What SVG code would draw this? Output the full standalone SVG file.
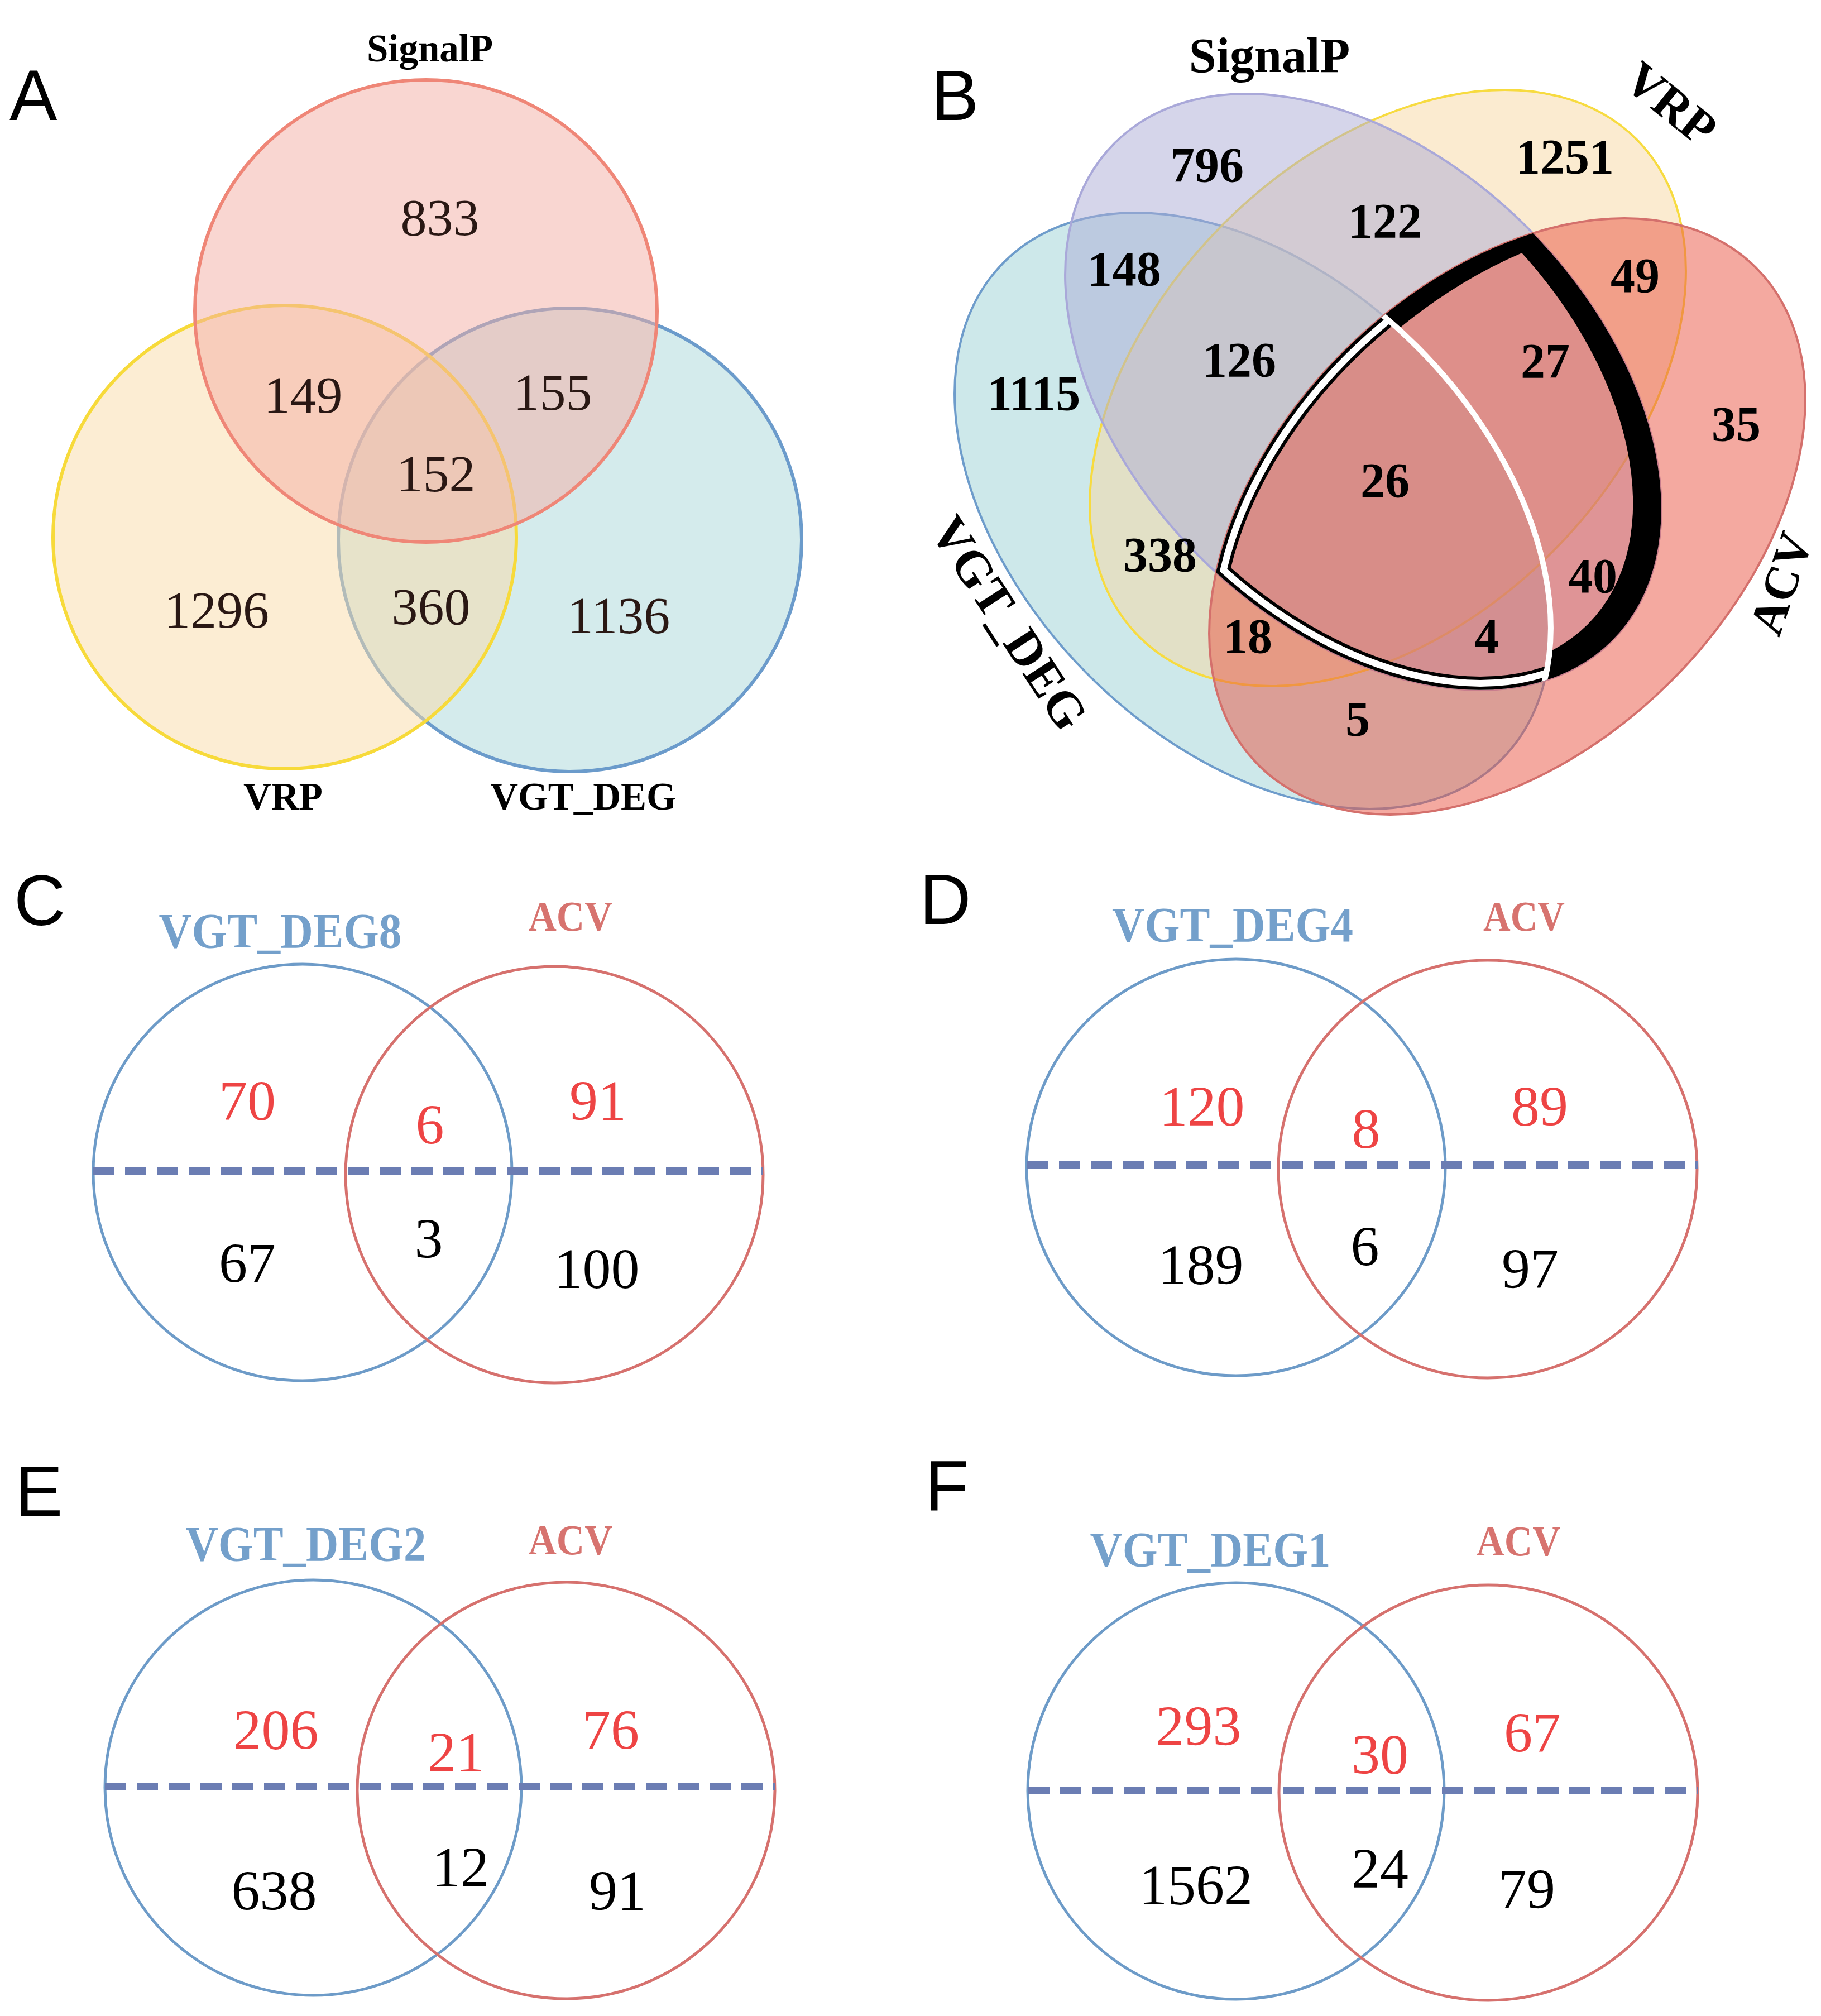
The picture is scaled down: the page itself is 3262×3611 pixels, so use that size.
<svg xmlns="http://www.w3.org/2000/svg" width="3262" height="3611" viewBox="0 0 3262 3611">
<style>
.pl{font-family:"Liberation Sans",Arial,sans-serif;font-size:128px;fill:#000}
.lb{font-family:"Liberation Serif","Times New Roman",serif;font-weight:bold;text-anchor:middle;fill:#000}
.na{font-family:"Liberation Serif","Times New Roman",serif;font-size:94px;text-anchor:middle;fill:#2a1814}
.nb{font-family:"Liberation Serif","Times New Roman",serif;font-weight:bold;font-size:88px;text-anchor:middle;fill:#000}
.nc{font-family:"Liberation Serif","Times New Roman",serif;font-size:102px;text-anchor:middle}
.r{fill:#EE4444}.k{fill:#000}
.sb{font-family:"Liberation Serif","Times New Roman",serif;font-weight:bold;font-size:88px;text-anchor:middle;fill:#74A0CB}
.sr{font-family:"Liberation Serif","Times New Roman",serif;font-weight:bold;font-size:76px;text-anchor:middle;fill:#D7736F}
.eb{fill:none;stroke:#6D9BC8;stroke-width:5}
.er{fill:none;stroke:#D6716E;stroke-width:5}
.dash{stroke:#6B7DB3;stroke-width:14;stroke-dasharray:38 19;fill:none}
</style>
<defs>
<ellipse id="eVGT" cx="2244" cy="915" rx="630" ry="416" transform="rotate(45 2244 915)"/>
<ellipse id="eVRP" cx="2486" cy="695" rx="630" ry="416" transform="rotate(-45 2486 695)"/>
<ellipse id="eSig" cx="2442" cy="702" rx="630" ry="416" transform="rotate(45 2442 702)"/>
<ellipse id="eACV" cx="2700" cy="925" rx="630" ry="416" transform="rotate(-45 2700 925)"/>
<ellipse id="eSigIn" cx="2420" cy="694" rx="600" ry="388" transform="rotate(45 2420 694)"/>
<ellipse id="eACVin" cx="2700" cy="925" rx="630" ry="380" transform="rotate(-45 2700 925)"/>
<clipPath id="cSig"><use href="#eSig"/></clipPath>
<clipPath id="cACV"><use href="#eACV"/></clipPath>
<clipPath id="cVGT"><use href="#eVGT"/></clipPath>
<clipPath id="cSigIn"><use href="#eSigIn"/></clipPath>
<mask id="mBand" maskUnits="userSpaceOnUse" x="0" y="0" width="3262" height="3611">
<g clip-path="url(#cSig)"><use href="#eACV" fill="#fff"/></g>
<g clip-path="url(#cSigIn)"><use href="#eACVin" fill="#000"/></g>
<use href="#eVGT" fill="#000"/>
</mask>
</defs>
<rect width="3262" height="3611" fill="#fff"/>

<g id="panelA">
<g id="A-VGT_DEG"><circle cx="1021" cy="967" r="415" fill="#A9D7D9" fill-opacity="0.5" stroke="#6B9BCB" stroke-width="6"/></g>
<g id="A-VRP"><circle cx="510" cy="962" r="415" fill="#F9DBA7" fill-opacity="0.5" stroke="#F7DA3A" stroke-width="6"/></g>
<g id="A-SignalP"><circle cx="763" cy="557" r="414" fill="#F3ADA3" fill-opacity="0.5" stroke="#EF8677" stroke-width="6"/></g>
<text class="pl" x="17" y="215">A</text>
<text class="lb" x="770" y="110" font-size="69">SignalP</text>
<text class="lb" x="507" y="1450" font-size="69">VRP</text>
<text class="lb" x="1045" y="1450" font-size="69">VGT_DEG</text>
<text class="na" x="788" y="421">833</text>
<text class="na" x="543" y="739">149</text>
<text class="na" x="990" y="734">155</text>
<text class="na" x="781" y="880">152</text>
<text class="na" x="388" y="1124">1296</text>
<text class="na" x="772" y="1118">360</text>
<text class="na" x="1108" y="1134">1136</text>
</g>

<g id="panelB">
<g id="B-VGT_DEG"><use href="#eVGT" fill="#9BD1D5" fill-opacity="0.5" stroke="#6E9CCB" stroke-width="4"/></g>
<g id="B-VRP"><use href="#eVRP" fill="#F7D7A1" fill-opacity="0.5" stroke="#F7DB40" stroke-width="4"/></g>
<g id="B-SignalP"><use href="#eSig" fill="#ABABD5" fill-opacity="0.5" stroke="#A9A8D9" stroke-width="4"/></g>
<g id="B-ACV"><use href="#eACV" fill="#E95341" fill-opacity="0.5" stroke="#D4706C" stroke-width="4"/></g>
<g id="B-highlight">
<rect x="1800" y="300" width="1300" height="1100" fill="#000" mask="url(#mBand)"/>
<g clip-path="url(#cSig)"><g clip-path="url(#cACV)"><g clip-path="url(#cVGT)">
<use href="#eSig" fill="none" stroke="#000" stroke-width="48"/>
<use href="#eACV" fill="none" stroke="#000" stroke-width="48"/>
<use href="#eSig" fill="none" stroke="#fff" stroke-width="36"/>
<use href="#eACV" fill="none" stroke="#fff" stroke-width="36"/>
<use href="#eSig" fill="none" stroke="#000" stroke-width="12"/>
<use href="#eACV" fill="none" stroke="#000" stroke-width="12"/>
</g></g></g>
<g clip-path="url(#cSig)"><g clip-path="url(#cACV)">
<use href="#eVGT" fill="none" stroke="#fff" stroke-width="10"/>
</g></g>
</g>
<text class="pl" x="1668" y="215">B</text>
<text class="lb" x="2274" y="129" font-size="88">SignalP</text>
<text class="lb" font-size="88" transform="translate(2993 186) rotate(39)" y="29">VRP</text>
<text class="lb" font-size="86" transform="translate(3190 1045) rotate(-71)" y="29">ACV</text>
<text class="lb" font-size="90" transform="translate(1808 1116) rotate(57)" y="30">VGT_DEG</text>
<text class="nb" x="2162" y="325">796</text>
<text class="nb" x="2803" y="310">1251</text>
<text class="nb" x="2481" y="425">122</text>
<text class="nb" x="2014" y="511">148</text>
<text class="nb" x="2929" y="523">49</text>
<text class="nb" x="2220" y="674">126</text>
<text class="nb" x="2768" y="676">27</text>
<text class="nb" x="1852" y="734">1115</text>
<text class="nb" x="3110" y="789">35</text>
<text class="nb" x="2481" y="890">26</text>
<text class="nb" x="2078" y="1023">338</text>
<text class="nb" x="2853" y="1061">40</text>
<text class="nb" x="2235" y="1169">18</text>
<text class="nb" x="2663" y="1169">4</text>
<text class="nb" x="2432" y="1317">5</text>
</g>

<g id="panelC">
<g id="C-VGT_DEG8"><ellipse class="eb" cx="542" cy="2100" rx="375" ry="373"/></g>
<g id="C-ACV"><ellipse class="er" cx="993" cy="2104" rx="374" ry="373"/></g>
<text class="pl" x="25" y="1657">C</text>
<text class="sb" x="502" y="1697" textLength="435" lengthAdjust="spacingAndGlyphs">VGT_DEG8</text>
<text class="sr" x="1022" y="1667" textLength="151" lengthAdjust="spacingAndGlyphs">ACV</text>
<text class="nc r" x="443" y="2006">70</text>
<text class="nc r" x="770" y="2049">6</text>
<text class="nc r" x="1071" y="2006">91</text>
<text class="nc k" x="443" y="2297">67</text>
<text class="nc k" x="768" y="2253">3</text>
<text class="nc k" x="1069" y="2307">100</text>
</g>

<g id="panelD">
<g id="D-VGT_DEG4"><ellipse class="eb" cx="2214" cy="2091" rx="375" ry="373"/></g>
<g id="D-ACV"><ellipse class="er" cx="2665" cy="2094" rx="375" ry="374"/></g>
<text class="pl" x="1647" y="1655">D</text>
<text class="sb" x="2208" y="1686" textLength="432" lengthAdjust="spacingAndGlyphs">VGT_DEG4</text>
<text class="sr" x="2730" y="1667" textLength="146" lengthAdjust="spacingAndGlyphs">ACV</text>
<text class="nc r" x="2153" y="2016">120</text>
<text class="nc r" x="2447" y="2056">8</text>
<text class="nc r" x="2758" y="2016">89</text>
<text class="nc k" x="2151" y="2300">189</text>
<text class="nc k" x="2445" y="2267">6</text>
<text class="nc k" x="2741" y="2307">97</text>
</g>

<g id="panelE">
<g id="E-VGT_DEG2"><ellipse class="eb" cx="561" cy="3202" rx="373" ry="372"/></g>
<g id="E-ACV"><ellipse class="er" cx="1014" cy="3207" rx="374" ry="373"/></g>
<text class="pl" x="27" y="2715">E</text>
<text class="sb" x="548" y="2795" textLength="431" lengthAdjust="spacingAndGlyphs">VGT_DEG2</text>
<text class="sr" x="1022" y="2784" textLength="151" lengthAdjust="spacingAndGlyphs">ACV</text>
<text class="nc r" x="494" y="3133">206</text>
<text class="nc r" x="817" y="3173">21</text>
<text class="nc r" x="1094" y="3133">76</text>
<text class="nc k" x="491" y="3421">638</text>
<text class="nc k" x="825" y="3379">12</text>
<text class="nc k" x="1106" y="3421">91</text>
</g>

<g id="panelF">
<g id="F-VGT_DEG1"><ellipse class="eb" cx="2214" cy="3208" rx="373" ry="373"/></g>
<g id="F-ACV"><ellipse class="er" cx="2666" cy="3211" rx="375" ry="372"/></g>
<text class="pl" x="1657" y="2706">F</text>
<text class="sb" x="2168" y="2805" textLength="431" lengthAdjust="spacingAndGlyphs">VGT_DEG1</text>
<text class="sr" x="2720" y="2786" textLength="151" lengthAdjust="spacingAndGlyphs">ACV</text>
<text class="nc r" x="2147" y="3126">293</text>
<text class="nc r" x="2472" y="3177">30</text>
<text class="nc r" x="2745" y="3138">67</text>
<text class="nc k" x="2142" y="3411">1562</text>
<text class="nc k" x="2472" y="3381">24</text>
<text class="nc k" x="2735" y="3418">79</text>
</g>

<g id="connectors">
<line class="dash" x1="167" y1="2097" x2="1367" y2="2097"/>
<line class="dash" x1="1840" y1="2087" x2="3041" y2="2087"/>
<line class="dash" x1="188" y1="3200" x2="1388" y2="3200"/>
<line class="dash" x1="1842" y1="3207" x2="3041" y2="3207"/>
</g>
</svg>
